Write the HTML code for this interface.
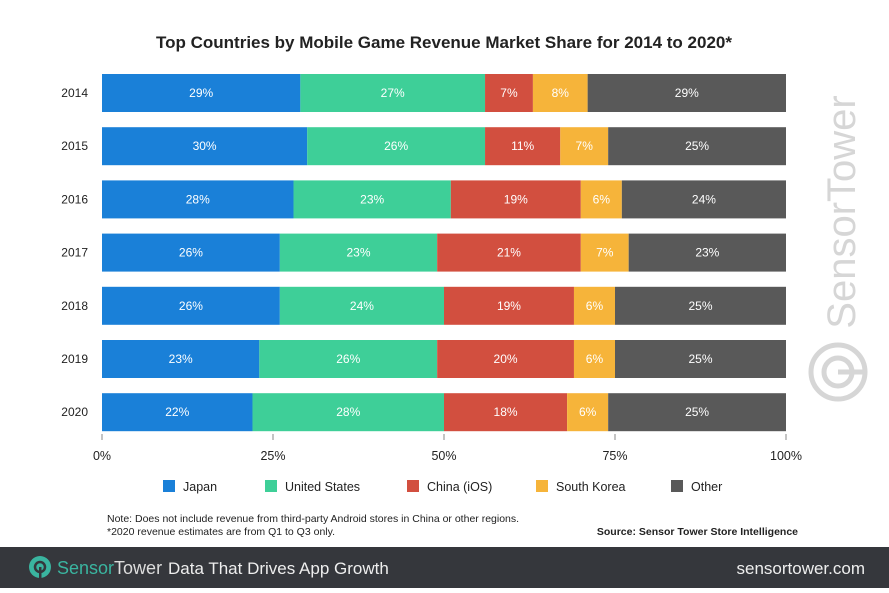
<!DOCTYPE html>
<html><head><meta charset="utf-8"><style>
body{margin:0;width:889px;height:588px;background:#fff;overflow:hidden;font-family:"Liberation Sans",sans-serif}
svg text{font-family:"Liberation Sans",sans-serif}
</style></head><body>
<svg id="c" width="889" height="588">
<text x="444" y="48" text-anchor="middle" font-size="17" font-weight="bold" fill="#222">Top Countries by Mobile Game Revenue Market Share for 2014 to 2020*</text>
<g>
<text transform="translate(855,212) rotate(-90)" text-anchor="middle" font-size="40" fill="#d6d6d6">SensorTower</text>
<circle cx="838" cy="372" r="27" fill="none" stroke="#d6d6d6" stroke-width="5"/>
<circle cx="838" cy="372" r="14" fill="none" stroke="#d6d6d6" stroke-width="5"/>
<line x1="838" y1="372" x2="866" y2="372" stroke="#d6d6d6" stroke-width="5"/>
</g>
<g id="bars"></g>
<g id="axis"></g>
<g id="legend"></g>
<text x="107" y="522" font-size="10.5" fill="#222">Note: Does not include revenue from third-party Android stores in China or other regions.</text>
<text x="107" y="535" font-size="10.5" fill="#222">*2020 revenue estimates are from Q1 to Q3 only.</text>
<text x="798" y="535" text-anchor="end" font-size="10.5" font-weight="bold" fill="#222">Source: Sensor Tower Store Intelligence</text>
<rect x="0" y="547" width="889" height="41" fill="#35373c"/>
<g>
<circle cx="40" cy="567" r="11" fill="#3ab5a0"/>
<circle cx="40" cy="567" r="5" fill="none" stroke="#35373c" stroke-width="2.5"/>
<rect x="39" y="567" width="2.5" height="11" fill="#35373c"/>
<text x="57" y="574" font-size="18" fill="#3ab5a0">Sensor<tspan fill="#ddd">Tower</tspan></text>
</g>
<text x="168" y="574" font-size="17" fill="#eee">Data That Drives App Growth</text>
<text x="865" y="574" text-anchor="end" font-size="17" fill="#eee">sensortower.com</text>
</svg>
<script>
const years=["2014","2015","2016","2017","2018","2019","2020"];
const series=["Japan","United States","China (iOS)","South Korea","Other"];
const japan=[29,30,28,26,26,23,22];
const us=[27,26,23,23,24,26,28];
const china=[7,11,19,21,19,20,18];
const korea=[8,7,6,7,6,6,6];
const other=[29,25,24,23,25,25,25];
const ticks=[0,25,50,75,100];
const colors=["#1a80d8","#3ecf98","#d24f3f","#f6b43a","#595959"];
const NS="http://www.w3.org/2000/svg";
const x0=102,x1=786;
const xs=v=>x0+(x1-x0)*v/100;
const yc=i=>93+i*53.2;
const bh=38;
const all=[japan,us,china,korea,other];
const bars=document.getElementById('bars');
years.forEach((yr,i)=>{
  const t=document.createElementNS(NS,'text');
  
  
  t.setAttribute('x',88);t.setAttribute('y',yc(i)+4);t.setAttribute('text-anchor','end');
  t.setAttribute('font-size','12');t.setAttribute('fill','#222');t.textContent=yr;bars.appendChild(t);
  let acc=0;
  all.forEach((s,k)=>{
    const v=(k===all.length-1)?Math.max(s[i],100-acc):s[i];
    const r=document.createElementNS(NS,'rect');
    
    
    r.setAttribute('x',xs(acc));r.setAttribute('width',xs(acc+v)-xs(acc));
    r.setAttribute('y',yc(i)-bh/2);r.setAttribute('height',bh);r.setAttribute('fill',colors[k]);
    bars.appendChild(r);
    const l=document.createElementNS(NS,'text');
    
    
    l.setAttribute('x',(xs(acc)+xs(acc+v))/2);l.setAttribute('y',yc(i)+4);
    l.setAttribute('text-anchor','middle');l.setAttribute('font-size','12');l.setAttribute('fill','#fff');
    l.textContent=s[i]+'%';bars.appendChild(l);
    acc+=v;
  });
});
const ax=document.getElementById('axis');
ticks.forEach(t=>{
  const ln=document.createElementNS(NS,'line');
  
  
  ln.setAttribute('x1',xs(t));ln.setAttribute('x2',xs(t));ln.setAttribute('y1',434);ln.setAttribute('y2',440);
  ln.setAttribute('stroke','#888');ax.appendChild(ln);
  const tx=document.createElementNS(NS,'text');
  
  
  tx.setAttribute('x',xs(t));tx.setAttribute('y',460);tx.setAttribute('text-anchor','middle');
  tx.setAttribute('font-size','12.5');tx.setAttribute('fill','#222');tx.textContent=t+'%';ax.appendChild(tx);
});
const lg=document.getElementById('legend');
const lx=[163,265,407,536,671];
series.forEach((s,k)=>{
  const r=document.createElementNS(NS,'rect');
  
  
  r.setAttribute('x',lx[k]);r.setAttribute('y',480);r.setAttribute('width',12);r.setAttribute('height',12);
  r.setAttribute('fill',colors[k]);lg.appendChild(r);
  const t=document.createElementNS(NS,'text');
  
  
  t.setAttribute('x',lx[k]+20);t.setAttribute('y',491);t.setAttribute('font-size','12.5');t.setAttribute('fill','#222');
  t.textContent=s;lg.appendChild(t);
});
</script>
</body></html>
